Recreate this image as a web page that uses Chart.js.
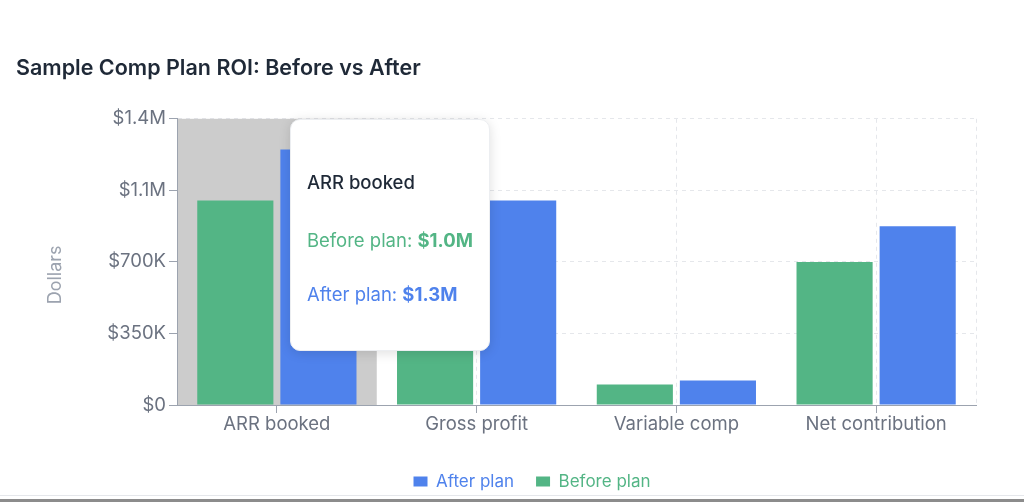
<!DOCTYPE html>
<html>
<head>
<meta charset="utf-8">
<script src="https://cdn.jsdelivr.net/npm/chart.js@4"></script>
<style>
  body { margin: 0; background: #fff; font-family: Inter, sans-serif; }
  #wrap { position: relative; width: 1024px; height: 502px; }
  #wrap canvas { position: absolute; left: 0; top: 0; }
  .line1 { position: absolute; left: 0; top: 495px; width: 1024px; height: 1px; background: #e5e7eb; }
  .line2 { position: absolute; left: 0; top: 499px; width: 1024px; height: 3px; background: #8c8c8c; }
  #tip {
    position: absolute; display: none; background: #fff; border-radius: 10px;
    box-shadow: 0 2px 12px rgba(0,0,0,0.13); border: 1px solid #eceef1;
    padding: 0 16px; box-sizing: border-box; height: 232px;
    font-family: Inter, sans-serif; font-size: 18.5px; white-space: nowrap;
  }
  #tip .t { color: #1f2937; font-weight: 500; margin-top: 51px; line-height: 22px; }
  #tip .r { margin-top: 36px; line-height: 22px; }
  #tip .r + .r { margin-top: 32px; }
</style>
</head>
<body>
<div id="wrap">
  <canvas id="meuGrafico" width="1024" height="500"></canvas>
  <div id="tip"></div>
  <div class="line1"></div>
  <div class="line2"></div>
</div>
<script>
// dados do gráfico
const categorias = ['ARR booked', 'Gross profit', 'Variable comp', 'Net contribution'];
const antesDoPlano = [1000000, 800000, 100000, 700000];
const depoisDoPlano = [1250000, 1000000, 120000, 875000];
const ticksY = [0, 350000, 700000, 1050000, 1400000];

const verde = '#53b585';
const azul = '#4f82ec';
const deslocamentoLegenda = 36;

function formatarDolar(v) {
    if (v === 0) return '$0';
    if (v >= 1000000) return '$' + (v / 1000000).toFixed(1) + 'M';
    return '$' + Math.round(v / 1000) + 'K';
}

// fundo cinza atrás da categoria ativa, linha tracejada na borda direita e título do eixo Y
const cursorCinza = {
    id: 'cursorCinza',
    afterLayout(chart) {
        // a legenda do print fica um pouco à direita do centro
        chart.legend.left += deslocamentoLegenda;
        chart.legend.right += deslocamentoLegenda;
    },
    beforeDatasetsDraw(chart) {
        const { ctx, chartArea, scales } = chart;
        ctx.save();
        ctx.strokeStyle = '#e5e7eb';
        ctx.setLineDash([4, 4]);
        ctx.beginPath();
        ctx.moveTo(chartArea.right + 0.5, chartArea.top);
        ctx.lineTo(chartArea.right + 0.5, chartArea.bottom);
        ctx.stroke();
        ctx.setLineDash([]);
        const ativos = chart.tooltip.getActiveElements();
        if (ativos.length) {
            const i = ativos[0].index;
            const larg = (chartArea.right - chartArea.left) / categorias.length;
            const cx = scales.x.getPixelForValue(i);
            const x0 = Math.max(cx - larg / 2, chartArea.left + 1);
            ctx.fillStyle = '#cccccc';
            ctx.fillRect(x0, chartArea.top, cx + larg / 2 - x0, chartArea.bottom - chartArea.top);
        }
        ctx.restore();
    },
    afterDraw(chart) {
        const { ctx, chartArea } = chart;
        ctx.save();
        ctx.translate(chartArea.left - 121, (chartArea.top + chartArea.bottom) / 2 + 13);
        ctx.rotate(-Math.PI / 2);
        ctx.fillStyle = '#9ca3af';
        ctx.font = '18px Inter';
        ctx.textAlign = 'center';
        ctx.textBaseline = 'middle';
        ctx.fillText('Dollars', 0, 0);
        ctx.restore();
    }
};

function tooltipExterno(context) {
    const { chart, tooltip } = context;
    const el = document.getElementById('tip');
    if (tooltip.opacity === 0) { el.style.display = 'none'; return; }
    let html = '<div class="t">' + tooltip.title.join(' ') + '</div>';
    tooltip.dataPoints.forEach(p => {
        const cor = p.dataset.backgroundColor;
        html += '<div class="r" style="color:' + cor + '">' + p.dataset.label +
            ': <b>' + formatarDolar(p.raw) + '</b></div>';
    });
    el.innerHTML = html;
    el.style.display = 'block';
    el.style.left = (tooltip.caretX + 13) + 'px';
    el.style.top = chart.chartArea.top + 'px';
}

const dados = {
    labels: categorias,
    datasets: [
        {
            label: 'Before plan',
            data: antesDoPlano,
            backgroundColor: verde,
            hoverBackgroundColor: verde,
            categoryPercentage: 0.832,
            barPercentage: 0.916
        },
        {
            label: 'After plan',
            data: depoisDoPlano,
            backgroundColor: azul,
            hoverBackgroundColor: azul,
            categoryPercentage: 0.832,
            barPercentage: 0.916
        }
    ]
};

const configuracao = {
    type: 'bar',
    data: dados,
    plugins: [cursorCinza],
    options: {
        responsive: false,
        animation: false,
        events: [],
        layout: { padding: { left: 16, right: 48, bottom: 0 } },
        interaction: { mode: 'index', intersect: false },
        plugins: {
            title: {
                display: true,
                text: 'Sample Comp Plan ROI: Before vs After',
                align: 'start',
                color: '#1f2937',
                font: { family: 'Inter', size: 21.5, weight: '600' },
                padding: { top: 56, bottom: 37 }
            },
            legend: {
                position: 'bottom',
                reverse: true,
                labels: {
                    boxWidth: 14,
                    boxHeight: 10,
                    padding: 22,
                    font: { family: 'Inter', size: 17 },
                    generateLabels(chart) {
                        return chart.data.datasets.map((ds, i) => ({
                            text: ds.label,
                            fillStyle: ds.backgroundColor,
                            strokeStyle: ds.backgroundColor,
                            lineWidth: 0,
                            fontColor: ds.backgroundColor,
                            datasetIndex: i,
                            hidden: false
                        }));
                    }
                }
            },
            tooltip: { enabled: false, external: tooltipExterno, position: 'average' }
        },
        scales: {
            x: {
                offset: true,
                grid: { offset: false, color: '#e5e7eb', tickColor: '#9ca3af', tickLength: 8, tickBorderDash: [] },
                border: { color: '#9ca3af', dash: [4, 4] },
                ticks: { color: '#6b7280', font: { family: 'Inter', size: 18.5 }, padding: 0 },
                afterFit(scale) { scale.height = 46; }
            },
            y: {
                min: 0,
                max: 1400000,
                afterBuildTicks(scale) { scale.ticks = ticksY.map(v => ({ value: v })); },
                grid: { color: '#e5e7eb', tickColor: '#9ca3af', tickLength: 8, tickBorderDash: [] },
                border: { color: '#9ca3af', dash: [4, 4] },
                ticks: { color: '#6b7280', font: { family: 'Inter', size: 18.5 }, padding: 3, callback: v => formatarDolar(v) },
                afterFit(scale) { scale.width = 161; }
            }
        }
    }
};

const meuGrafico = new Chart(document.getElementById('meuGrafico'), configuracao);

// deixa a primeira categoria ativa, como no print
const ativos = [{ datasetIndex: 0, index: 0 }, { datasetIndex: 1, index: 0 }];
meuGrafico.setActiveElements(ativos);
meuGrafico.tooltip.setActiveElements(ativos, { x: 0, y: 0 });
meuGrafico.update();
</script>
</body>
</html>
